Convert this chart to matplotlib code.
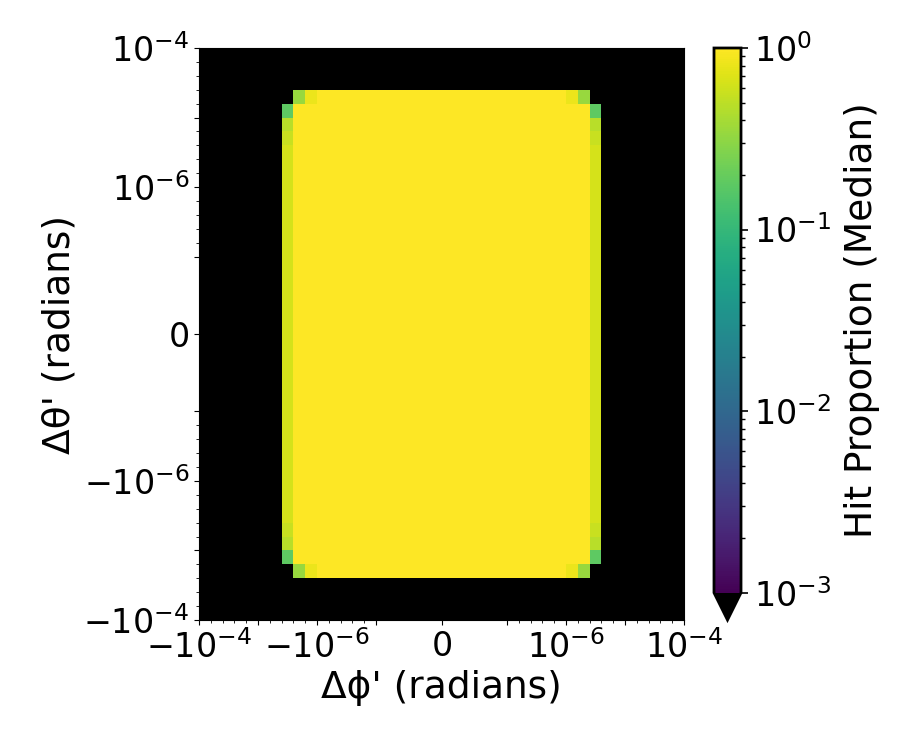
import numpy as np
import matplotlib
matplotlib.use("Agg")
import matplotlib.pyplot as plt
from matplotlib.colors import LogNorm
from matplotlib.ticker import FixedLocator

# ---- data ----
# bin edges: 5 bins per decade from 1e-7 to 1e-4 on each side, linear bins in [-1e-7, 1e-7]
decade_lo, decade_hi, bins_per_decade = -7, -4, 5
linthresh = 1e-7

# hit region (index ranges in the 32x32 grid, rows counted from bottom)
hit_rows = (3, 28)          # rows containing hits
hit_cols_full = (8, 23)     # columns fully yellow in interior rows
edge_cols = (7, 24)         # outer columns with partial hits
# values along the outer columns (rows 4..27 ; symmetric)
edge_profile_bottom = [0.18, 0.48, 0.56]   # rows 4,5,6
edge_interior_value = 0.64                 # rows 7..24
# cap rows (row 3 and row 28): columns 8,9 (and 23,22)
cap_values = [0.34, 0.81]
full_value = 1.0

# ---- build grid ----
pos_edges = 10.0 ** np.linspace(decade_lo, decade_hi, (decade_hi - decade_lo) * bins_per_decade + 1)
edges = np.concatenate([-pos_edges[::-1], [0.0], pos_edges])
n = len(edges) - 1
Z = np.zeros((n, n))
r0, r1 = hit_rows
c0, c1 = edge_cols
Z[r0 + 1:r1, c0 + 1:c1] = full_value
Z[r0, hit_cols_full[0] + 2:hit_cols_full[1] - 1] = full_value
Z[r1, hit_cols_full[0] + 2:hit_cols_full[1] - 1] = full_value
for k, v in enumerate(cap_values):
    for r in (r0, r1):
        Z[r, hit_cols_full[0] + k] = v
        Z[r, hit_cols_full[1] - k] = v
for c in (c0, c1):
    Z[r0 + 1:r1, c] = edge_interior_value
    for k, v in enumerate(edge_profile_bottom):
        Z[r0 + 1 + k, c] = v
        Z[r1 - 1 - k, c] = v

cmap = plt.get_cmap("viridis").copy()
cmap.set_under("black")
cmap.set_bad("black")

TICK_FS = 24
LABEL_FS = 27

fig = plt.figure(figsize=(9, 7.5), dpi=100)
ax = fig.add_axes([199 / 900, 130 / 750, 485 / 900, 572 / 750])
cax = fig.add_axes([714 / 900, 130 / 750, 27 / 900, 572 / 750])

Zm = np.where(Z > 0, Z, 1e-6)
mesh = ax.pcolormesh(edges, edges, Zm, cmap=cmap, norm=LogNorm(1e-3, 1), shading="flat")
ax.set_xscale("symlog", linthresh=linthresh, linscale=1)
ax.set_yscale("symlog", linthresh=linthresh, linscale=1)
ax.set_xlim(-1e-4, 1e-4)
ax.set_ylim(-1e-4, 1e-4)

major = [-1e-4, -1e-5, -1e-6, -1e-7, 0, 1e-7, 1e-6, 1e-5, 1e-4]
major_labels = [r"$\mathdefault{-10^{-4}}$", "", r"$\mathdefault{-10^{-6}}$", "",
                r"$\mathdefault{0}$", "", r"$\mathdefault{10^{-6}}$", "", r"$\mathdefault{10^{-4}}$"]
minor = []
for e in pos_edges:
    if not np.isclose(np.log10(e), round(np.log10(e))):
        minor += [e, -e]
for axis in (ax.xaxis, ax.yaxis):
    axis.set_major_locator(FixedLocator(major))
    axis.set_ticklabels(major_labels)
    axis.set_minor_locator(FixedLocator(minor))
ax.tick_params(labelsize=TICK_FS)

ax.set_xlabel("Δϕ' (radians)", fontsize=LABEL_FS)
ax.set_ylabel("Δθ' (radians)", fontsize=LABEL_FS)

cb = fig.colorbar(mesh, cax=cax, extend="min")
cb.outline.set_linewidth(2)
cb.ax.tick_params(which="major", labelsize=TICK_FS, length=5, width=1.2, pad=4.5)
cb.ax.tick_params(which="minor", length=3, width=1)
cb.set_label("Hit Proportion (Median)", fontsize=LABEL_FS, labelpad=9)

fig.savefig("out.png", dpi=100)
